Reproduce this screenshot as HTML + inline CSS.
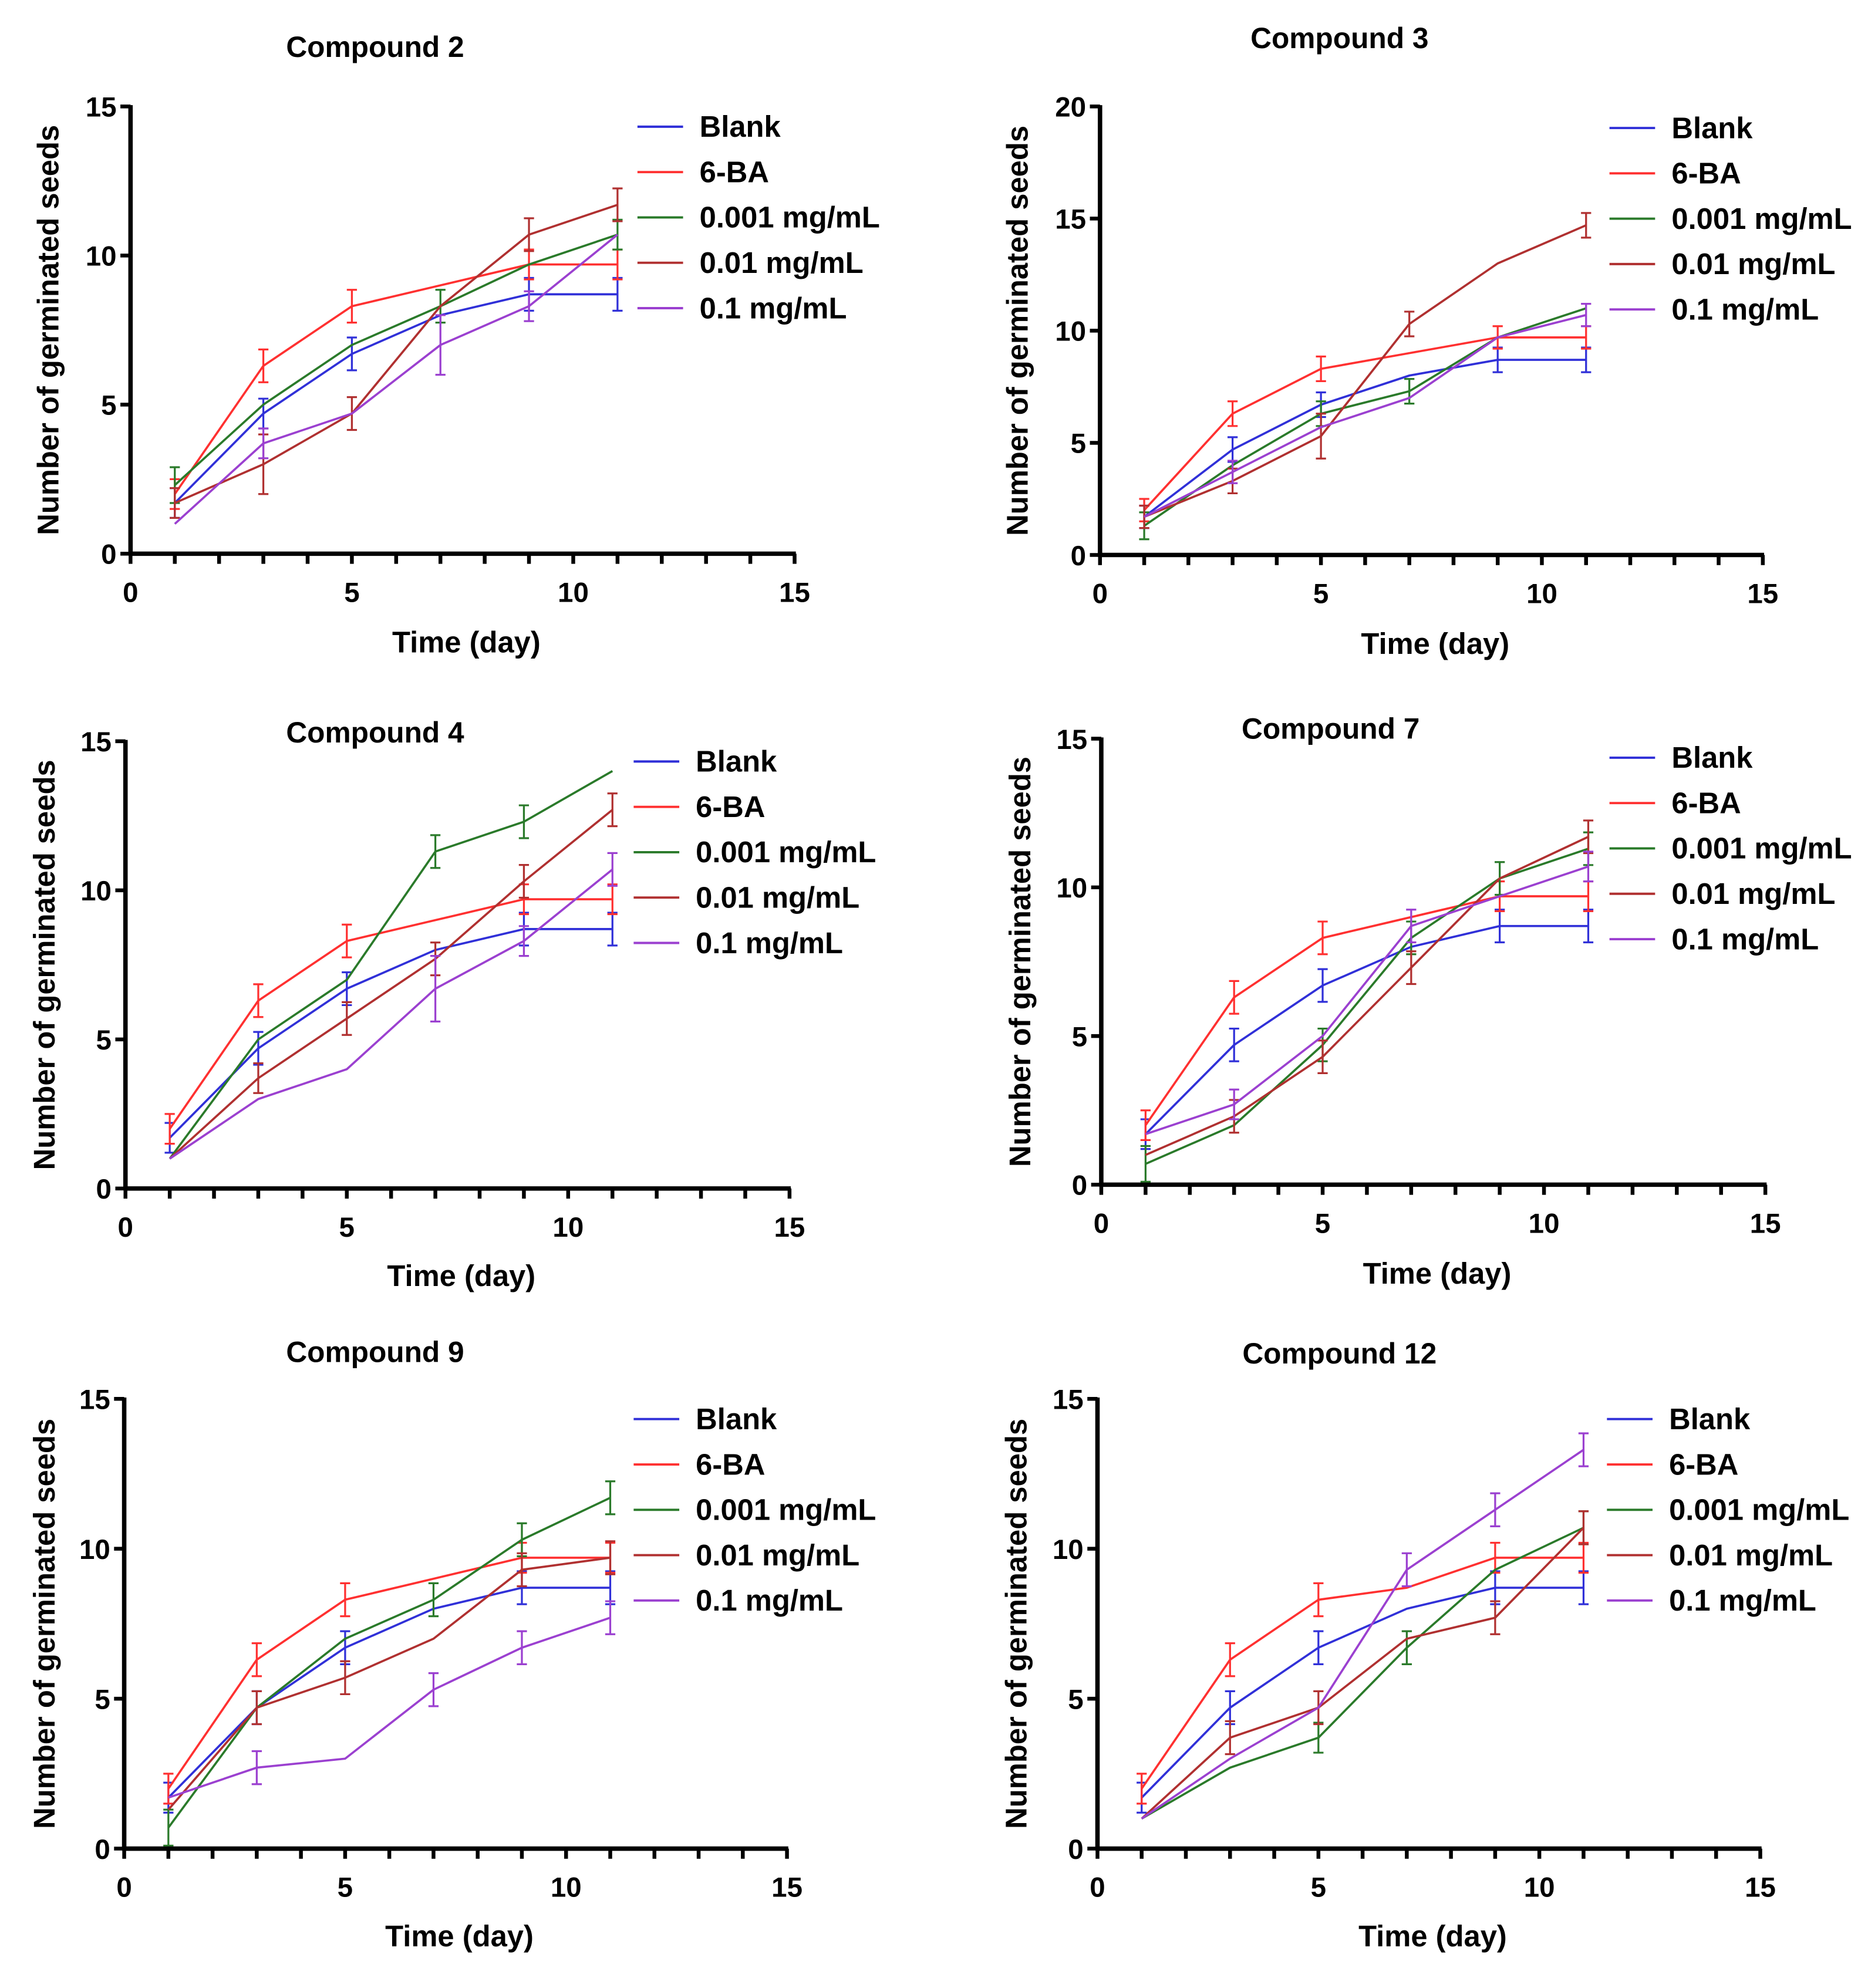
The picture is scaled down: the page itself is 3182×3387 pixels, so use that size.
<!DOCTYPE html>
<html><head><meta charset="utf-8"><style>
html,body{margin:0;padding:0;background:#fff;}
svg{display:block;}
text{font-family:"Liberation Sans",Arial,sans-serif;font-weight:bold;fill:#000;}
</style></head><body>
<svg id="fig" width="3182" height="3387" viewBox="0 0 1474 1569" preserveAspectRatio="none" xmlns="http://www.w3.org/2000/svg"></svg>
<script>
const days = [1,3,5,7,9,11];
const seriesNames = ["Blank","6-BA","0.001 mg/mL","0.01 mg/mL","0.1 mg/mL"];
const seriesColors = ["#3030d8","#ff3030","#2a7a2a","#b03030","#9b40d0"];
const xTicks = [0,5,10,15];

const titles = ["Compound 2","Compound 3","Compound 4","Compound 7","Compound 9","Compound 12"];
const yMaxes = [15,20,15,15,15,15];

const c2 = [[1.7,4.7,6.7,8,8.7,8.7],[2,6.3,8.3,9,9.7,9.7],[2.3,5,7,8.3,9.7,10.7],[1.7,3,4.7,8.3,10.7,11.7],[1,3.7,4.7,7,8.3,10.7]];
const c3 = [[1.7,4.7,6.7,8,8.7,8.7],[2,6.3,8.3,9,9.7,9.7],[1.3,4,6.3,7.3,9.7,11],[1.7,3.3,5.3,10.3,13,14.7],[1.7,3.7,5.7,7,9.7,10.7]];
const c4 = [[1.7,4.7,6.7,8,8.7,8.7],[2,6.3,8.3,9,9.7,9.7],[1,5,7,11.3,12.3,14],[1,3.7,5.7,7.7,10.3,12.7],[1,3,4,6.7,8.3,10.7]];
const c7 = [[1.7,4.7,6.7,8,8.7,8.7],[2,6.3,8.3,9,9.7,9.7],[0.7,2,4.7,8.3,10.3,11.3],[1,2.3,4.3,7.3,10.3,11.7],[1.7,2.7,5,8.7,9.7,10.7]];
const c9 = [[1.7,4.7,6.7,8,8.7,8.7],[2,6.3,8.3,9,9.7,9.7],[0.7,4.7,7,8.3,10.3,11.7],[1.3,4.7,5.7,7,9.3,9.7],[1.7,2.7,3,5.3,6.7,7.7]];
const c12 = [[1.7,4.7,6.7,8,8.7,8.7],[2,6.3,8.3,8.7,9.7,9.7],[1,2.7,3.7,6.7,9.3,10.7],[1,3.7,4.7,7,7.7,10.7],[1,3,4.7,9.3,11.3,13.3]];
const panelValues = [c2,c3,c4,c7,c9,c12];

const e2 = [[0.5,0.5,0.55,0,0.55,0.55],[0.5,0.55,0.55,0,0.5,0.5],[0.6,0,0,0.55,0,0.5],[0.5,1,0.55,0,0.55,0.55],[0,0.5,0,1,0.5,0]];
const e3 = [[0.5,0.55,0.55,0,0.55,0.55],[0.5,0.55,0.55,0,0.5,0.5],[0.6,0,0.55,0.55,0,0],[0.5,0.55,1,0.55,0,0.55],[0,0.5,0,0,0,0.5]];
const e4 = [[0.5,0.55,0.55,0,0.55,0.55],[0.5,0.55,0.55,0,0.5,0.5],[0,0,0,0.55,0.55,0],[0,0.5,0.55,0.55,0.55,0.55],[0,0,0,1.1,0.5,0.55]];
const e7 = [[0.5,0.55,0.55,0,0.55,0.55],[0.5,0.55,0.55,0,0.5,0.5],[0.6,0,0.55,0.55,0.55,0.55],[0,0.55,0.55,0.55,0,0.55],[0,0.5,0,0.55,0,0.5]];
const e9 = [[0.5,0.55,0.55,0,0.55,0.55],[0.5,0.55,0.55,0,0.5,0.5],[0.6,0,0,0.55,0.55,0.55],[0,0.55,0.55,0,0.55,0.55],[0,0.55,0,0.55,0.55,0.55]];
const e12 = [[0.5,0.55,0.55,0,0.55,0.55],[0.5,0.55,0.55,0,0.5,0.5],[0,0,0.5,0.55,0,0.55],[0,0.55,0.55,0,0.55,0.55],[0,0,0,0.55,0.55,0.55]];
const panelErrors = [e2,e3,e4,e7,e9,e12];

const layouts = [
 {x0:103,x1:627,yt:84,yb:437,tx:296,ty:37,lx:503,ly:100,yl:38,xl:507},
 {x0:868,x1:1391,yt:84,yb:438,tx:1057,ty:30,lx:1270,ly:101,yl:803,xl:508},
 {x0:99,x1:623,yt:585,yb:938,tx:296,ty:578,lx:500,ly:601,yl:35,xl:1007},
 {x0:869,x1:1393,yt:583,yb:935,tx:1050,ty:575,lx:1270,ly:598,yl:805,xl:1005},
 {x0:98,x1:621,yt:1104,yb:1459,tx:296,ty:1067,lx:500,ly:1120,yl:35,xl:1528},
 {x0:866,x1:1389,yt:1104,yb:1459,tx:1057,ty:1068,lx:1268,ly:1120,yl:802,xl:1528}
];
const NS="http://www.w3.org/2000/svg";
const svg=document.getElementById('fig');
function mk(tag,attrs,parent){const e=document.createElementNS(NS,tag);for(const k in attrs)e.setAttribute(k,attrs[k]);(parent||svg).appendChild(e);return e;}

layouts.forEach((L,p)=>{
  const g=mk('g',{});
  
  
  const yMax=yMaxes[p];
  const sx=v=>L.x0+(L.x1-L.x0)*v/15;
  const sy=v=>L.yb-(L.yb-L.yt)*v/yMax;
  const t=mk('text',{x:L.tx,y:L.ty+8,'text-anchor':'middle','font-size':23},g);t.textContent=titles[p];
  
  
  panelValues[p].forEach((vals,s)=>{
    const col=seriesColors[s];
    const sg=mk('g',{},g);
    
    
    const pts=vals.map((v,i)=>sx(days[i])+','+sy(v)).join(' ');
    mk('polyline',{points:pts,fill:'none',stroke:col,'stroke-width':1.7},sg);
    vals.forEach((v,i)=>{
      const er=panelErrors[p][s][i]; if(!er) return;
      const x=sx(days[i]);
      mk('line',{x1:x,x2:x,y1:sy(v-er),y2:sy(v+er),stroke:col,'stroke-width':1.5},sg);
      mk('line',{x1:x-4,x2:x+4,y1:sy(v-er),y2:sy(v-er),stroke:col,'stroke-width':1.5},sg);
      mk('line',{x1:x-4,x2:x+4,y1:sy(v+er),y2:sy(v+er),stroke:col,'stroke-width':1.5},sg);
    });
  });
  const ax=mk('g',{},g);
  
  
  mk('line',{x1:L.x0,x2:L.x0,y1:L.yt-1,y2:L.yb+1.5,stroke:'#000','stroke-width':3.5},ax);
  mk('line',{x1:L.x0-1.5,x2:L.x1+1,y1:L.yb,y2:L.yb,stroke:'#000','stroke-width':3.5},ax);
  for(let i=0;i<=15;i++){mk('line',{x1:sx(i),x2:sx(i),y1:L.yb,y2:L.yb+8,stroke:'#000','stroke-width':3},ax);}
  xTicks.forEach(v=>{const tt=mk('text',{x:sx(v),y:L.yb+38,'text-anchor':'middle','font-size':22},ax);tt.textContent=v;});
  for(let v=0;v<=yMax;v+=5){
    mk('line',{x1:L.x0-8,x2:L.x0,y1:sy(v),y2:sy(v),stroke:'#000','stroke-width':3},ax);
    const tt=mk('text',{x:L.x0-11,y:sy(v)+8,'text-anchor':'end','font-size':22},ax);tt.textContent=v;
  }
  const xl=mk('text',{x:(L.x0+L.x1)/2+3,y:L.xl+8,'text-anchor':'middle','font-size':23.5},g);xl.textContent='Time (day)';
  
  
  const cy=(L.yt+L.yb)/2;
  const yl=mk('text',{x:L.yl+8,y:cy,'text-anchor':'middle','font-size':23.5,transform:`rotate(-90 ${L.yl+8} ${cy})`},g);yl.textContent='Number of germinated seeds';
  
  
  seriesNames.forEach((n,s)=>{
    const lg=mk('g',{},g);
    
    
    const y=L.ly+s*35.8;
    mk('line',{x1:L.lx,x2:L.lx+36,y1:y,y2:y,stroke:seriesColors[s],'stroke-width':1.8},lg);
    const tt=mk('text',{x:L.lx+49,y:y+8,'font-size':23.5},lg);tt.textContent=n;
  });
});
</script>
</body></html>
